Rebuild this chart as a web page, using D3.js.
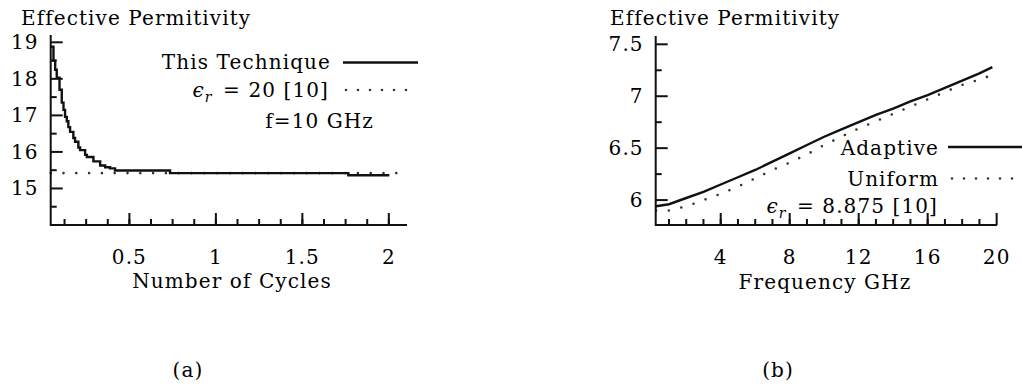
<!DOCTYPE html>
<meta charset="utf-8">
<script src="https://d3js.org/d3.v7.min.js"></script>
<style>
    body { margin: 0; background: #fff; }
    text { font-family: "DejaVu Serif", serif; font-size: 20px; letter-spacing: 1.1px; fill: #000; }
    .axis line, .axis path { stroke: #111; stroke-width: 2; fill: none; }
</style>
<body>
<svg class="chart" width="1022" height="387"></svg>
<script>
    ///////////////////////
    // Data
    // (a) effective permitivity vs number of cycles
    var cycles = [0.045, 0.061, 0.071, 0.080, 0.096, 0.109, 0.119, 0.128, 0.138, 0.147, 0.157, 0.176, 0.186, 0.205, 0.215, 0.244, 0.254, 0.292, 0.331, 0.360, 0.388, 0.417, 0.735, 1.766, 2.003];
    var techniqueVals = [18.88, 18.50, 18.25, 18.03, 17.70, 17.35, 17.15, 16.96, 16.84, 16.68, 16.55, 16.38, 16.28, 16.12, 16.05, 15.92, 15.86, 15.74, 15.63, 15.58, 15.55, 15.49, 15.42, 15.36, 15.36];
    var refCycles = [0.045, 2.105];
    var refVals = [15.42, 15.42];
    var cycleTicks = [0.5, 1, 1.5, 2];
    var permTicksA = [15, 16, 17, 18, 19];

    // (b) effective permitivity vs frequency
    var freqAdaptive = [0.25, 1, 2, 3, 4, 5, 6, 7, 8, 9, 10, 11, 12, 13, 14, 15, 16, 17, 18, 19, 19.75];
    var adaptiveVals = [5.94, 5.96, 6.02, 6.08, 6.15, 6.22, 6.29, 6.37, 6.45, 6.53, 6.61, 6.68, 6.75, 6.82, 6.88, 6.95, 7.01, 7.08, 7.15, 7.22, 7.28];
    var freqUniform = [0.25, 1, 2, 3, 4, 5, 6, 7, 8, 9, 10, 11, 12, 13, 14, 15, 16, 17, 18, 19, 20];
    var uniformVals = [5.90, 5.90, 5.94, 6.00, 6.06, 6.13, 6.21, 6.29, 6.36, 6.44, 6.53, 6.61, 6.69, 6.76, 6.83, 6.90, 6.97, 7.04, 7.11, 7.16, 7.22];
    var freqTicks = [4, 8, 12, 16, 20];
    var permTicksB = [6, 6.5, 7, 7.5];

    var svg = d3.select(".chart");

    // draws an axis frame: major ticks labelled, minor ticks not, all pointing inward
    function frame(g, x, y, xMajor, xMinor, yMajor, yMinor) {
        var x0 = x.range()[0], x1 = x.range()[1];
        var y0 = y.range()[0], y1 = y.range()[1];

        var xa = g.append("g").attr("class", "axis");
        xa.append("line").attr("x1", x0).attr("x2", x1).attr("y1", y0).attr("y2", y0);
        xa.selectAll(".minor").data(xMinor).enter().append("line")
            .attr("x1", function(d) { return x(d); }).attr("x2", function(d) { return x(d); })
            .attr("y1", y0).attr("y2", y0 - 6);
        xa.selectAll(".major").data(xMajor).enter().append("line")
            .attr("x1", function(d) { return x(d); }).attr("x2", function(d) { return x(d); })
            .attr("y1", y0).attr("y2", y0 - 12);
        g.selectAll(".xlab").data(xMajor).enter().append("text")
            .attr("x", function(d) { return x(d); })
            .attr("y", 264)
            .attr("text-anchor", "middle")
            .text(function(d) { return d; });

        var ya = g.append("g").attr("class", "axis");
        ya.append("line").attr("x1", x0).attr("x2", x0).attr("y1", y0 + 1).attr("y2", y1);
        ya.selectAll(".minor").data(yMinor).enter().append("line")
            .attr("y1", function(d) { return y(d); }).attr("y2", function(d) { return y(d); })
            .attr("x1", x0).attr("x2", x0 + 6);
        ya.selectAll(".major").data(yMajor).enter().append("line")
            .attr("y1", function(d) { return y(d); }).attr("y2", function(d) { return y(d); })
            .attr("x1", x0).attr("x2", x0 + 12);
        g.selectAll(".ylab").data(yMajor).enter().append("text")
            .attr("x", x0 - 12)
            .attr("y", function(d) { return y(d) + 7; })
            .attr("text-anchor", "end")
            .text(function(d) { return d; });
    }

    function drawLine(g, xs, ys, x, y, dotted, curve) {
        var pts = xs.map(function(d, i) { return [d, ys[i]]; });
        var line = d3.line()
            .x(function(d) { return x(d[0]); })
            .y(function(d) { return y(d[1]); })
            .curve(curve || d3.curveLinear);
        var p = g.append("path").datum(pts)
            .attr("d", line)
            .attr("fill", "none");
        if (dotted) {
            p.attr("stroke", "#333").attr("stroke-width", 2.6)
                .attr("stroke-linecap", "round")
                .attr("stroke-dasharray", "0 12.8");
        } else {
            p.attr("stroke", "#111").attr("stroke-width", 2.4);
        }
    }

    function legendLine(g, x1, x2, yy, dotted) {
        var l = g.append("line").attr("x1", x1).attr("x2", x2).attr("y1", yy).attr("y2", yy);
        if (dotted) {
            l.attr("stroke", "#333").attr("stroke-width", 2.6)
                .attr("stroke-linecap", "round").attr("stroke-dasharray", "0 12");
        } else {
            l.attr("stroke", "#111").attr("stroke-width", 2.4);
        }
    }

    function epsLabel(g, xx, yy, rest) {
        var t = g.append("text").attr("x", xx).attr("y", yy).attr("text-anchor", "end");
        t.append("tspan").attr("font-style", "italic").text("\u03f5");
        t.append("tspan").attr("font-style", "italic").attr("font-size", 14).attr("dy", 5).text("r");
        t.append("tspan").attr("dy", -5).attr("dx", 3).text(" = " + rest);
    }

    ///////////////////////
    // Panel (a)
    var ga = svg.append("g");
    var xa = d3.scaleLinear().domain([0.045, 2.105]).range([50.7, 407]);
    var ya = d3.scaleLinear().domain([14.0, 19.2]).range([225, 35]);
    var minorCycles = d3.range(1, 17).map(function(i) { return i * 0.125; });
    var minorPermA = [14.5, 15.5, 16.5, 17.5, 18.5];

    drawLine(ga, refCycles, refVals, xa, ya, true);
    drawLine(ga, cycles, techniqueVals, xa, ya, false, d3.curveStepAfter);
    frame(ga, xa, ya, cycleTicks, minorCycles, permTicksA, minorPermA);

    ga.append("text").attr("x", 21).attr("y", 25).text("Effective Permitivity");
    ga.append("text").attr("x", 232).attr("y", 288).attr("text-anchor", "middle").text("Number of Cycles");
    ga.append("text").attr("x", 331).attr("y", 69).attr("text-anchor", "end").text("This Technique");
    legendLine(ga, 343, 418, 62.5, false);
    epsLabel(ga, 329, 97, "20 [10]");
    legendLine(ga, 346, 418, 90, true);
    ga.append("text").attr("x", 374).attr("y", 128).attr("text-anchor", "end").text("f=10 GHz");
    ga.append("text").attr("x", 188).attr("y", 377).attr("text-anchor", "middle").text("(a)");

    ///////////////////////
    // Panel (b)
    var gb = svg.append("g");
    var xb = d3.scaleLinear().domain([0.23, 20.02]).range([655.7, 997]);
    var yb = d3.scaleLinear().domain([5.76, 7.58]).range([225, 36]);
    var minorFreq = d3.range(1, 20);
    var minorPermB = [6.25, 6.75, 7.25];

    drawLine(gb, freqUniform, uniformVals, xb, yb, true);
    drawLine(gb, freqAdaptive, adaptiveVals, xb, yb, false);
    frame(gb, xb, yb, freqTicks, minorFreq, permTicksB, minorPermB);

    gb.append("text").attr("x", 610).attr("y", 25).text("Effective Permitivity");
    gb.append("text").attr("x", 825).attr("y", 289).attr("text-anchor", "middle").text("Frequency GHz");
    gb.append("text").attr("x", 939).attr("y", 155).attr("text-anchor", "end").text("Adaptive");
    legendLine(gb, 948, 1024, 147, false);
    gb.append("text").attr("x", 939).attr("y", 186).attr("text-anchor", "end").text("Uniform");
    legendLine(gb, 952, 1024, 178.5, true);
    epsLabel(gb, 938, 213, "8.875 [10]");
    gb.append("text").attr("x", 778).attr("y", 377).attr("text-anchor", "middle").text("(b)");
</script>
</body>
